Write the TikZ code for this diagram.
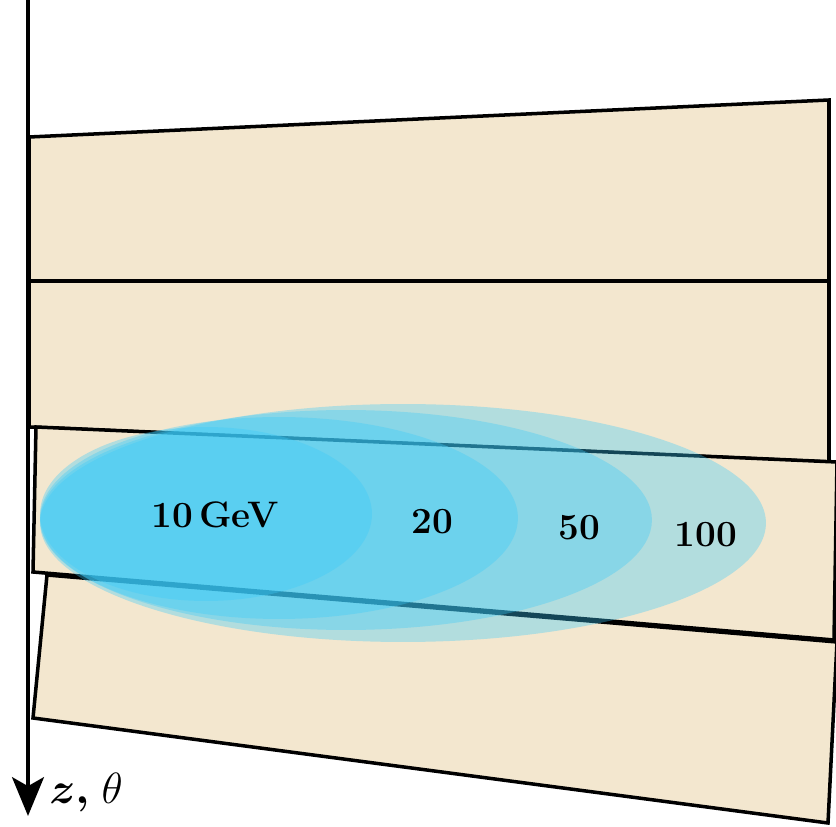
\documentclass[tikz,border=0pt]{standalone}
\usepackage{amsmath,amssymb}
\usepackage{xcolor}
\definecolor{slab}{RGB}{243, 231, 207}
\definecolor{shower}{RGB}{58, 203, 250}
\usepackage{tikz}
\usetikzlibrary{arrows.meta,positioning}

\begin{document}
\begin{tikzpicture}[
  x=0.02cm, y=-0.02cm,
  slabbox/.style={draw=black, fill=slab, line width=2pt, line join=miter},
  blob/.style={fill=shower, fill opacity=0.35},
  energy/.style={font=\fontsize{21}{24}\selectfont\bfseries, inner sep=0pt},
  axis/.style={-{Stealth[length=22pt, width=18pt, inset=5pt]}, line width=2.8pt}
]
\useasboundingbox (0,0) rectangle (836,827);

\draw[slabbox] (29,137) -- (829,100) -- (829,281) -- (29,281) -- cycle;
\draw[slabbox] (29,281) -- (829,281) -- (829,462) -- (29,427) -- cycle;
\draw[slabbox] (47,575) -- (837,642) -- (828,823) -- (33,718) -- cycle;
\draw[slabbox] (36,427) -- (837,462) -- (834,640) -- (33,572) -- cycle;

\fill[blob] (403,523) ellipse [x radius=7.26cm, y radius=2.38cm];
\fill[blob] (346,520) ellipse [x radius=6.12cm, y radius=2.20cm];
\fill[blob] (279,518) ellipse [x radius=4.78cm, y radius=2.02cm];
\fill[blob] (206,514) ellipse [x radius=3.32cm, y radius=1.74cm];

\node[energy] (e10) at (215,515) {10\,GeV};
\node[energy] (e20) at (432,522) {20};
\node[energy] (e50) at (579,528) {50};
\node[energy] (e100) at (706,535) {100};

\coordinate (ztop) at (28,0);
\coordinate (zbot) at (28,816);
\draw[axis] (ztop) -- (zbot);
\node[anchor=west, inner sep=0pt, font=\fontsize{27}{30}\selectfont] (zlab) at (49,793) {$\boldsymbol{z,}\;\theta$};
\end{tikzpicture}
\end{document}
